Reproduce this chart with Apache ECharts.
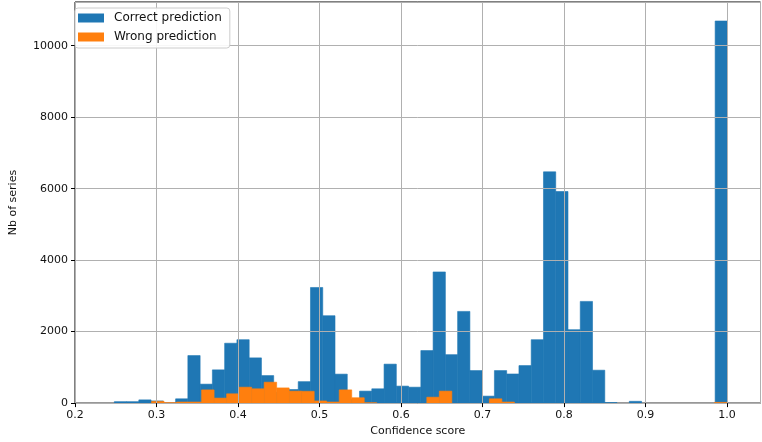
<!DOCTYPE html>
<html>
<head>
<meta charset="utf-8">
<script src="https://cdn.jsdelivr.net/npm/echarts@6/dist/echarts.min.js"></script>
<style>
  html, body { margin: 0; padding: 0; background: #fff; }
  #main { width: 762px; height: 442px; }
</style>
</head>
<body>
<div id="main"></div>
<script>
// histogram bins: start, end, 50 equal bins for each series
var correctRange = [0.2482, 1.0004];
var wrongRange = [0.2325, 1.0];
var binCount = 50;

// counts
var correctCounts = [40, 40, 90, 60, 0, 120, 1330, 530, 930, 1675,
  1775, 1265, 770, 300, 380, 600, 3235, 2445, 810, 100,
  335, 400, 1090, 475, 445, 1470, 3670, 1355, 2565, 910,
  195, 910, 815, 1050, 1775, 6470, 5920, 2055, 2845, 920,
  15, 0, 50, 0, 0, 0, 0, 0, 0, 10690];
var wrongCounts = [0, 0, 0, 0, 50, 10, 30, 30, 370, 140,
  260, 445, 400, 585, 425, 335, 330, 60, 30, 370,
  150, 10, 0, 0, 0, 0, 165, 335, 0, 0,
  0, 120, 30, 0, 0, 0, 0, 0, 0, 0,
  0, 0, 0, 0, 0, 0, 0, 0, 0, 20];

var xTicks = [0.2, 0.3, 0.4, 0.5, 0.6, 0.7, 0.8, 0.9, 1.0];
var yTicks = [0, 2000, 4000, 6000, 8000, 10000];

function toBins(range, counts) {
  var w = (range[1] - range[0]) / binCount;
  var out = [];
  for (var i = 0; i < counts.length; i++) {
    out.push([range[0] + i * w, range[0] + (i + 1) * w, counts[i]]);
  }
  return out;
}

function renderBar(params, api) {
  if (!api.value(2)) return null;
  var p0 = api.coord([api.value(0), api.value(2)]);
  var p1 = api.coord([api.value(1), 0]);
  var c = api.visual('color');
  // stroke in the same colour hides the seams between bins
  return {
    type: 'rect',
    shape: { x: p0[0], y: p0[1], width: p1[0] - p0[0], height: p1[1] - p0[1] },
    style: { fill: c, stroke: c, lineWidth: 0.6 }
  };
}

var font = 'DejaVu Sans';
var chart = echarts.init(document.getElementById('main'));
chart.setOption({
  animation: false,
  grid: { left: 73, right: 1.5, top: 2, bottom: 38, show: true, borderColor: '#000', borderWidth: 1, backgroundColor: 'transparent' },
  legend: {
    orient: 'vertical',
    left: 75, top: 8,
    z: 10,
    padding: [3, 8, 4, 3],
    itemWidth: 26, itemHeight: 9, itemGap: 5,
    backgroundColor: 'rgba(255,255,255,0.9)',
    borderColor: '#cccccc', borderWidth: 1, borderRadius: 3,
    textStyle: { fontFamily: font, fontSize: 12, color: '#111', lineHeight: 14, padding: [0, 0, 0, 5] },
    data: [{ name: 'Correct prediction', icon: 'rect' }, { name: 'Wrong prediction', icon: 'rect' }]
  },
  xAxis: {
    type: 'value',
    min: 0.2, max: 1.041, interval: 0.1,
    z: 5,
    name: 'Confidence score',
    nameLocation: 'middle', nameGap: 22,
    nameTextStyle: { fontFamily: font, fontSize: 11, color: '#111' },
    axisLine: { show: false },
    axisTick: { show: true, inside: false, length: 4, lineStyle: { color: '#000' } },
    axisLabel: {
      fontFamily: font, fontSize: 11, color: '#111', margin: 7, showMaxLabel: false,
      formatter: function (v) {
        for (var i = 0; i < xTicks.length; i++) {
          if (Math.abs(v - xTicks[i]) < 1e-6) return xTicks[i].toFixed(1);
        }
        return '';
      }
    },
    splitLine: { show: true, lineStyle: { color: '#b0b0b0', width: 1 } }
  },
  yAxis: {
    type: 'value',
    min: 0, max: 11222, interval: 2000,
    z: 5,
    name: 'Nb of series',
    nameLocation: 'middle', nameGap: 56,
    nameTextStyle: { fontFamily: font, fontSize: 11, color: '#111' },
    axisLine: { show: false },
    axisTick: { show: true, inside: false, length: 4, lineStyle: { color: '#000' } },
    axisLabel: {
      fontFamily: font, fontSize: 11, color: '#111', margin: 7, showMaxLabel: false,
      formatter: function (v) { return yTicks.indexOf(v) >= 0 ? String(v) : ''; }
    },
    splitLine: { show: true, lineStyle: { color: '#b0b0b0', width: 1 } }
  },
  series: [
    {
      name: 'Correct prediction',
      type: 'custom',
      z: 1,
      itemStyle: { color: '#1f77b4' },
      renderItem: renderBar,
      encode: { x: [0, 1], y: 2 },
      data: toBins(correctRange, correctCounts)
    },
    {
      name: 'Wrong prediction',
      type: 'custom',
      z: 1,
      itemStyle: { color: '#ff7f0e' },
      renderItem: renderBar,
      encode: { x: [0, 1], y: 2 },
      data: toBins(wrongRange, wrongCounts)
    }
  ]
});
</script>
</body>
</html>
